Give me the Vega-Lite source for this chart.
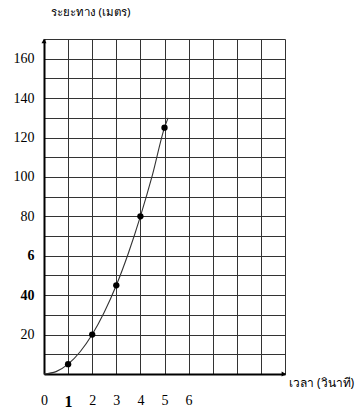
{
  "$schema": "https://vega.github.io/schema/vega-lite/v6.json",
  "width": 241,
  "height": 335,
  "autosize": "none",
  "padding": {"left": 44, "top": 39, "right": 77, "bottom": 37},
  "background": "white",
  "config": {"view": {"stroke": null}},
  "datasets": {
    "curve": [
      {"t": 0, "d": 0}, {"t": 0.5, "d": 1.2}, {"t": 1, "d": 5}, {"t": 1.5, "d": 11.3},
      {"t": 2, "d": 20}, {"t": 2.5, "d": 31.3}, {"t": 3, "d": 45}, {"t": 3.5, "d": 61.3},
      {"t": 4, "d": 80}, {"t": 4.5, "d": 101}, {"t": 5, "d": 125}, {"t": 5.15, "d": 130}
    ],
    "points": [
      {"t": 1, "d": 5}, {"t": 2, "d": 20}, {"t": 3, "d": 45}, {"t": 4, "d": 80}, {"t": 5, "d": 125}
    ],
    "arrows": [
      {"t": 0, "d": 169, "shape": "triangle-up"},
      {"t": 9.95, "d": 0, "shape": "triangle-right"}
    ]
  },
  "encoding": {
    "x": {
      "field": "t", "type": "quantitative",
      "scale": {"domain": [0, 10], "nice": false},
      "axis": {
        "values": [0, 1, 2, 3, 4, 5, 6, 7, 8, 9, 10],
        "tickCount": 100,
        "format": "d",
        "grid": true, "gridColor": "#333", "gridWidth": 1, "gridOpacity": 1,
        "domainColor": "#000", "domainWidth": 2,
        "ticks": false, "labelPadding": 19,
        "labelFont": "Liberation Serif",
        "labelFontSize": {"condition": {"test": "datum.value == 1", "value": 16}, "value": 14},
        "labelFontWeight": {"condition": {"test": "datum.value == 1", "value": "bold"}, "value": "normal"},
        "labelColor": "#000",
        "labelExpr": "datum.value <= 6 ? datum.label : ''",
        "labelOverlap": false,
        "labelFlush": false,
        "title": "เวลา (วินาที)",
        "titleFont": "Noto Sans",
        "titleFontSize": 12,
        "titleFontWeight": "normal",
        "titleColor": "#000",
        "titleX": 277, "titleY": 8, "titleAlign": "center", "titleBaseline": "middle"
      }
    },
    "y": {
      "field": "d", "type": "quantitative",
      "scale": {"domain": [0, 170], "nice": false},
      "axis": {
        "values": [0, 10, 20, 30, 40, 50, 60, 70, 80, 90, 100, 110, 120, 130, 140, 150, 160, 170],
        "tickCount": 100,
        "format": "d",
        "grid": true, "gridColor": "#333", "gridWidth": 1, "gridOpacity": 1,
        "domainColor": "#000", "domainWidth": 2,
        "ticks": false, "labelPadding": 10,
        "labelFont": "Liberation Serif",
        "labelFontSize": 14,
        "labelFontWeight": {"condition": {"test": "datum.value == 40 || datum.value == 60", "value": "bold"}, "value": "normal"},
        "labelColor": "#000",
        "labelExpr": "datum.value > 0 && datum.value < 170 && datum.value % 20 == 0 ? (datum.value == 60 ? '6' : datum.label) : ''",
        "labelOverlap": false,
        "labelFlush": false,
        "title": "ระยะทาง (เมตร)",
        "titleFont": "Noto Sans",
        "titleFontSize": 11.5,
        "titleFontWeight": "normal",
        "titleColor": "#000",
        "titleAngle": 0,
        "titleX": 46, "titleY": -27, "titleAlign": "center", "titleBaseline": "middle"
      }
    }
  },
  "layer": [
    {
      "data": {"name": "curve"},
      "mark": {"type": "line", "interpolate": "monotone", "color": "#333", "strokeWidth": 1.1}
    },
    {
      "data": {"name": "points"},
      "mark": {"type": "point", "filled": true, "color": "#000", "opacity": 1, "size": 40}
    },
    {
      "data": {"name": "arrows"},
      "mark": {"type": "point", "filled": true, "color": "#000", "opacity": 1, "size": 25},
      "encoding": {
        "shape": {"field": "shape", "type": "nominal", "scale": null, "legend": null}
      }
    }
  ]
}
